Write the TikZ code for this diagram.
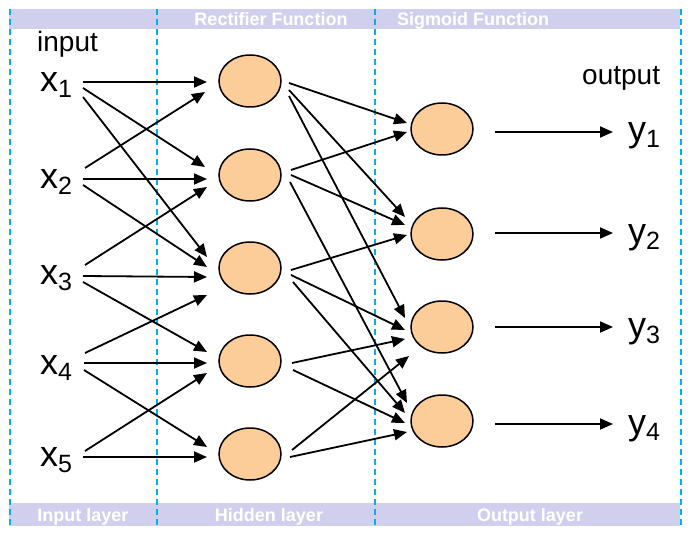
\documentclass[tikz,border=0pt]{standalone}
\usepackage{fontspec}
\setmainfont{Liberation Sans}
\usetikzlibrary{shapes.geometric,arrows.meta,calc}
\definecolor{bandfill}{RGB}{208,208,238}
\definecolor{sepblue}{RGB}{0,176,240}
\definecolor{neuronfill}{RGB}{252,204,153}
\newcommand\lab[2]{{\fontsize{36}{36}\selectfont #1}\raisebox{-6pt}{\fontsize{25}{25}\selectfont #2}}
\newcommand\edge[4]{\draw[arr] ($(#1)+(#2)$) -- ($(#3)+(#4)$);}
\begin{document}
\begin{tikzpicture}[x=1pt,y=-1pt,
  neuron/.style={ellipse,draw,line width=1.5pt,fill=neuronfill,minimum width=62pt,minimum height=52pt,inner sep=0pt},
  arr/.style={-{Triangle[length=13pt,width=11pt]},line width=1.8pt},
  sepline/.style={draw=sepblue,line width=2pt,dash pattern=on 6pt off 4pt},
  band/.style={fill=bandfill,draw=none},
  bandtext/.style={text=white,font=\fontsize{18}{18}\selectfont\bfseries,inner sep=0pt,anchor=base},
  lbl/.style={inner sep=0pt,anchor=base west},
  word/.style={inner sep=0pt,anchor=base west,font=\fontsize{28}{28}\selectfont}]
\useasboundingbox (0,0) rectangle (692,537);
% bands
\path[band] (9,9) rectangle (680,29);
\path[band] (9,503) rectangle (680,526);
\node[bandtext] (t1) at (271,26) {Rectifier Function};
\node[bandtext] (t2) at (473,26) {Sigmoid Function};
\node[bandtext] (b1) at (83,521) {Input layer};
\node[bandtext] (b2) at (269,521) {Hidden layer};
\node[bandtext] (b3) at (530,521) {Output layer};
% separators
\coordinate (s1a) at (10,9); \coordinate (s1b) at (10,528);
\coordinate (s2a) at (157,9); \coordinate (s2b) at (157,528);
\coordinate (s3a) at (375,9); \coordinate (s3b) at (375,528);
\coordinate (s4a) at (681,9); \coordinate (s4b) at (681,528);
\draw[sepline] (s1a) -- (s1b);
\draw[sepline] (s2a) -- (s2b);
\draw[sepline] (s3a) -- (s3b);
\draw[sepline] (s4a) -- (s4b);
% words
\node[word] (inp) at (37,52) {input};
\node[word] (outp) at (582,85) {output};
% input labels
\node[lbl] (x1) at (40,92) {\lab{x}{1}};
\node[lbl] (x2) at (40,189) {\lab{x}{2}};
\node[lbl] (x3) at (40,284) {\lab{x}{3}};
\node[lbl] (x4) at (40,374) {\lab{x}{4}};
\node[lbl] (x5) at (40,466) {\lab{x}{5}};
% hidden
\node[neuron] (h1) at (250,81) {};
\node[neuron] (h2) at (250,175) {};
\node[neuron] (h3) at (250,268) {};
\node[neuron] (h4) at (250,361) {};
\node[neuron] (h5) at (250,454) {};
% output neurons
\node[neuron] (o1) at (442,129) {};
\node[neuron] (o2) at (442,234) {};
\node[neuron] (o3) at (442,327) {};
\node[neuron] (o4) at (442,421) {};
% output labels
\node[lbl] (y1) at (628,142) {\lab{y}{1}};
\node[lbl] (y2) at (628,243) {\lab{y}{2}};
\node[lbl] (y3) at (628,337) {\lab{y}{3}};
\node[lbl] (y4) at (628,434) {\lab{y}{4}};
% input -> hidden
\edge{x1.base west}{43,-10}{h1}{-43,1}
\edge{x1.base west}{43,-4}{h2}{-45,-8}
\edge{x1.base west}{43,5}{h3}{-43,-11}
\edge{x2.base west}{45,-21}{h1}{-45,11}
\edge{x2.base west}{43,-10}{h2}{-43,4}
\edge{x2.base west}{43,-4}{h3}{-43,-1}
\edge{x3.base west}{45,-19}{h2}{-43,12}
\edge{x3.base west}{43,-8}{h3}{-43,9}
\edge{x3.base west}{43,-2}{h4}{-43,-9}
\edge{x4.base west}{45,-21}{h3}{-43,27}
\edge{x4.base west}{44,-11}{h4}{-43,2}
\edge{x4.base west}{44,-4}{h5}{-43,-7}
\edge{x5.base west}{45,-15}{h4}{-43,12}
\edge{x5.base west}{43,-9}{h5}{-43,3}
% hidden -> output
\edge{h1}{39,2}{o1}{-35,-6}
\edge{h1}{39,9}{o2}{-37,-17}
\edge{h1}{39,15}{o3}{-37,-9}
\edge{h2}{41,-5}{o1}{-35,3}
\edge{h2}{41,0}{o2}{-37,-9}
\edge{h2}{40,7}{o4}{-35,-18}
\edge{h3}{41,2}{o2}{-35,1}
\edge{h3}{41,7}{o3}{-37,3}
\edge{h3}{43,14}{o4}{-37,-8}
\edge{h4}{42,2}{o3}{-37,12}
\edge{h4}{43,9}{o4}{-37,2}
\edge{h5}{42,-4}{o3}{-33,29}
\edge{h5}{40,3}{o4}{-35,11}
% output arrows
\edge{o1}{53,3}{y1.base west}{-15,-10}
\edge{o2}{53,-1}{y2.base west}{-15,-10}
\edge{o3}{53,0}{y3.base west}{-15,-10}
\edge{o4}{53,3}{y4.base west}{-15,-10}
\end{tikzpicture}
\end{document}
